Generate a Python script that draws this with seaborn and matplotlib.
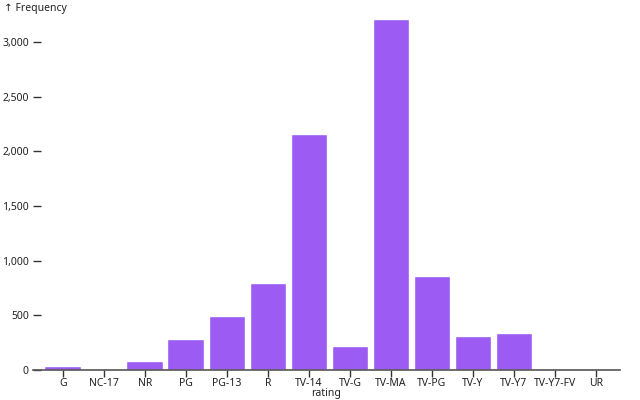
import matplotlib
matplotlib.use("Agg")
import matplotlib.pyplot as plt
import pandas as pd
import seaborn as sns

ratings = ["G", "NC-17", "NR", "PG", "PG-13", "R", "TV-14", "TV-G",
           "TV-MA", "TV-PG", "TV-Y", "TV-Y7", "TV-Y7-FV", "UR"]
counts = [41, 3, 80, 287, 490, 799, 2160, 220, 3207, 863, 307, 334, 6, 3]
y_ticks = [0, 500, 1000, 1500, 2000, 2500, 3000]

df = pd.DataFrame({"rating": ratings, "count": counts})

sns.set_theme(style="white")
plt.rcParams["font.family"] = ["Noto Sans", "DejaVu Sans"]

fig = plt.figure(figsize=(6.4, 4.0), dpi=100)
# axes spans x=33..620 px, y=19.4..370 px
ax = fig.add_axes([33 / 640, 30 / 400, (620 - 33) / 640, (370 - 19.4) / 400])

sns.barplot(data=df, x="rating", y="count", order=ratings, color="#9c5cf3",
            saturation=1, width=0.9, ax=ax)

ax.set_xlim(-0.73, 13.585)
ax.set_ylim(0, 3207)

for side in ["top", "right", "left"]:
    ax.spines[side].set_visible(False)
ax.spines["bottom"].set_color("#555555")
ax.spines["bottom"].set_linewidth(1.2)

ax.set_yticks(y_ticks)
ax.set_yticklabels([f"{v:,}" for v in y_ticks])
ax.tick_params(axis="y", direction="in", length=6, width=1, color="#333333",
               pad=3, labelsize=7.5, labelcolor="#222222", left=True)
ax.tick_params(axis="x", direction="out", length=5, width=1, color="#333333",
               pad=0.5, labelsize=7.5, labelcolor="#222222", bottom=True)

ax.set_xlabel("rating", fontsize=7.5, color="#222222", labelpad=-0.5)
ax.set_ylabel("")
fig.text(4 / 640, 1 - 8 / 400, "↑ Frequency", fontsize=7.5, color="#222222",
         ha="left", va="center")

fig.savefig("out.png", dpi=100)
